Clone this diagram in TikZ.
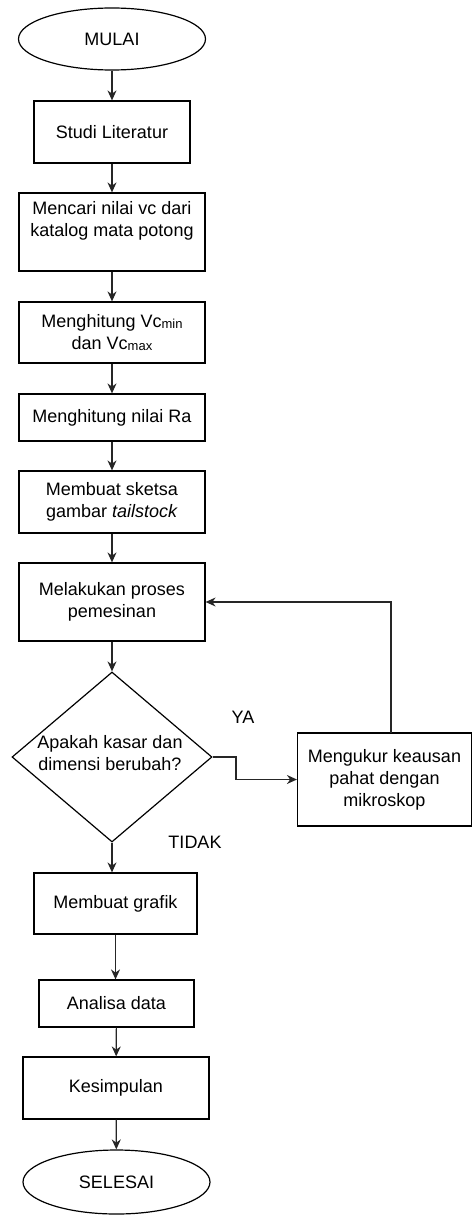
\documentclass[tikz,border=0pt]{standalone}
\usepackage{fontspec}
\setmainfont{Liberation Sans}
\usetikzlibrary{shapes.geometric,arrows.meta}
\begin{document}
\begin{tikzpicture}[x=1pt,y=-1pt,
  every node/.style={font=\fontsize{18}{22}\selectfont, text=black},
  box/.style={draw=black, line width=1.2pt, rectangle, inner sep=0pt, align=center},
  term/.style={draw=black, line width=1.2pt, ellipse, inner sep=0pt, align=center},
  arr/.style={draw=black!85, line width=1.2pt, -{Stealth[length=10pt,width=9pt]}},
  lbl/.style={inner sep=0pt}
]
\useasboundingbox (0,0) rectangle (472,1220);
\newcommand{\smallsub}[1]{\raisebox{-1.5pt}{\fontsize{13}{13}\selectfont #1}}
\node[term, minimum width=187pt, minimum height=62pt] (mulai) at (112,39) {MULAI};
\node[box, minimum width=156pt, minimum height=62pt] (studi) at (112,132) {Studi Literatur};
\node[box, minimum width=186pt, minimum height=78pt] (mencari) at (112,232) {Mencari nilai vc dari\\katalog mata potong\\[4pt]};
\node[box, minimum width=186pt, minimum height=61pt] (vc) at (112,332.5) {Menghitung Vc\smallsub{min}\\dan Vc\smallsub{max}};
\node[box, minimum width=186pt, minimum height=47pt] (ra) at (112,417.5) {Menghitung nilai Ra};
\node[box, minimum width=186pt, minimum height=62pt] (sketsa) at (112,502) {Membuat sketsa\\gambar \textit{tailstock}};
\node[box, minimum width=186pt, minimum height=78pt] (proses) at (112,602) {Melakukan proses\\pemesinan};
\node[draw=black, line width=1.2pt, diamond, minimum width=200pt, minimum height=170pt, inner sep=0pt] (dec) at (112,757) {};
\node[align=center, inner sep=0pt] (dectext) at (110,753) {Apakah kasar dan\\dimensi berubah?};
\node[box, minimum width=174pt, minimum height=93pt] (ukur) at (384.5,779.5) {Mengukur keausan\\pahat dengan\\mikroskop};
\node[box, minimum width=163pt, minimum height=61pt] (grafik) at (115.5,903.5) {Membuat grafik};
\node[box, minimum width=155pt, minimum height=47pt] (analisa) at (116.5,1003.5) {Analisa data};
\node[box, minimum width=186pt, minimum height=62pt] (kesimpulan) at (116,1088) {Kesimpulan};
\node[term, minimum width=187pt, minimum height=64pt] (selesai) at (116.5,1182) {SELESAI};
\node[lbl] (ya) at (243,717) {YA};
\node[lbl] (tidak) at (195,842) {TIDAK};
\coordinate (b1) at (236,757);
\coordinate (b2) at (236,779.5);
\coordinate (up) at (391,733);
\draw[arr] (mulai) -- (studi);
\draw[arr] (studi) -- (mencari);
\draw[arr] (mencari) -- (vc);
\draw[arr] (vc) -- (ra);
\draw[arr] (ra) -- (sketsa);
\draw[arr] (sketsa) -- (proses);
\draw[arr] (proses) -- (dec.north);
\draw[arr] (dec.east) -- (b1) -- (b2) -- (ukur.west);
\draw[arr] (up) |- (proses.east);
\draw[arr] (dec.south) -- (dec.south |- grafik.north);
\draw[arr] (grafik.south) -- (grafik.south |- analisa.north);
\draw[arr] (analisa) -- (kesimpulan);
\draw[arr] (kesimpulan) -- (selesai);
\end{tikzpicture}
\end{document}
